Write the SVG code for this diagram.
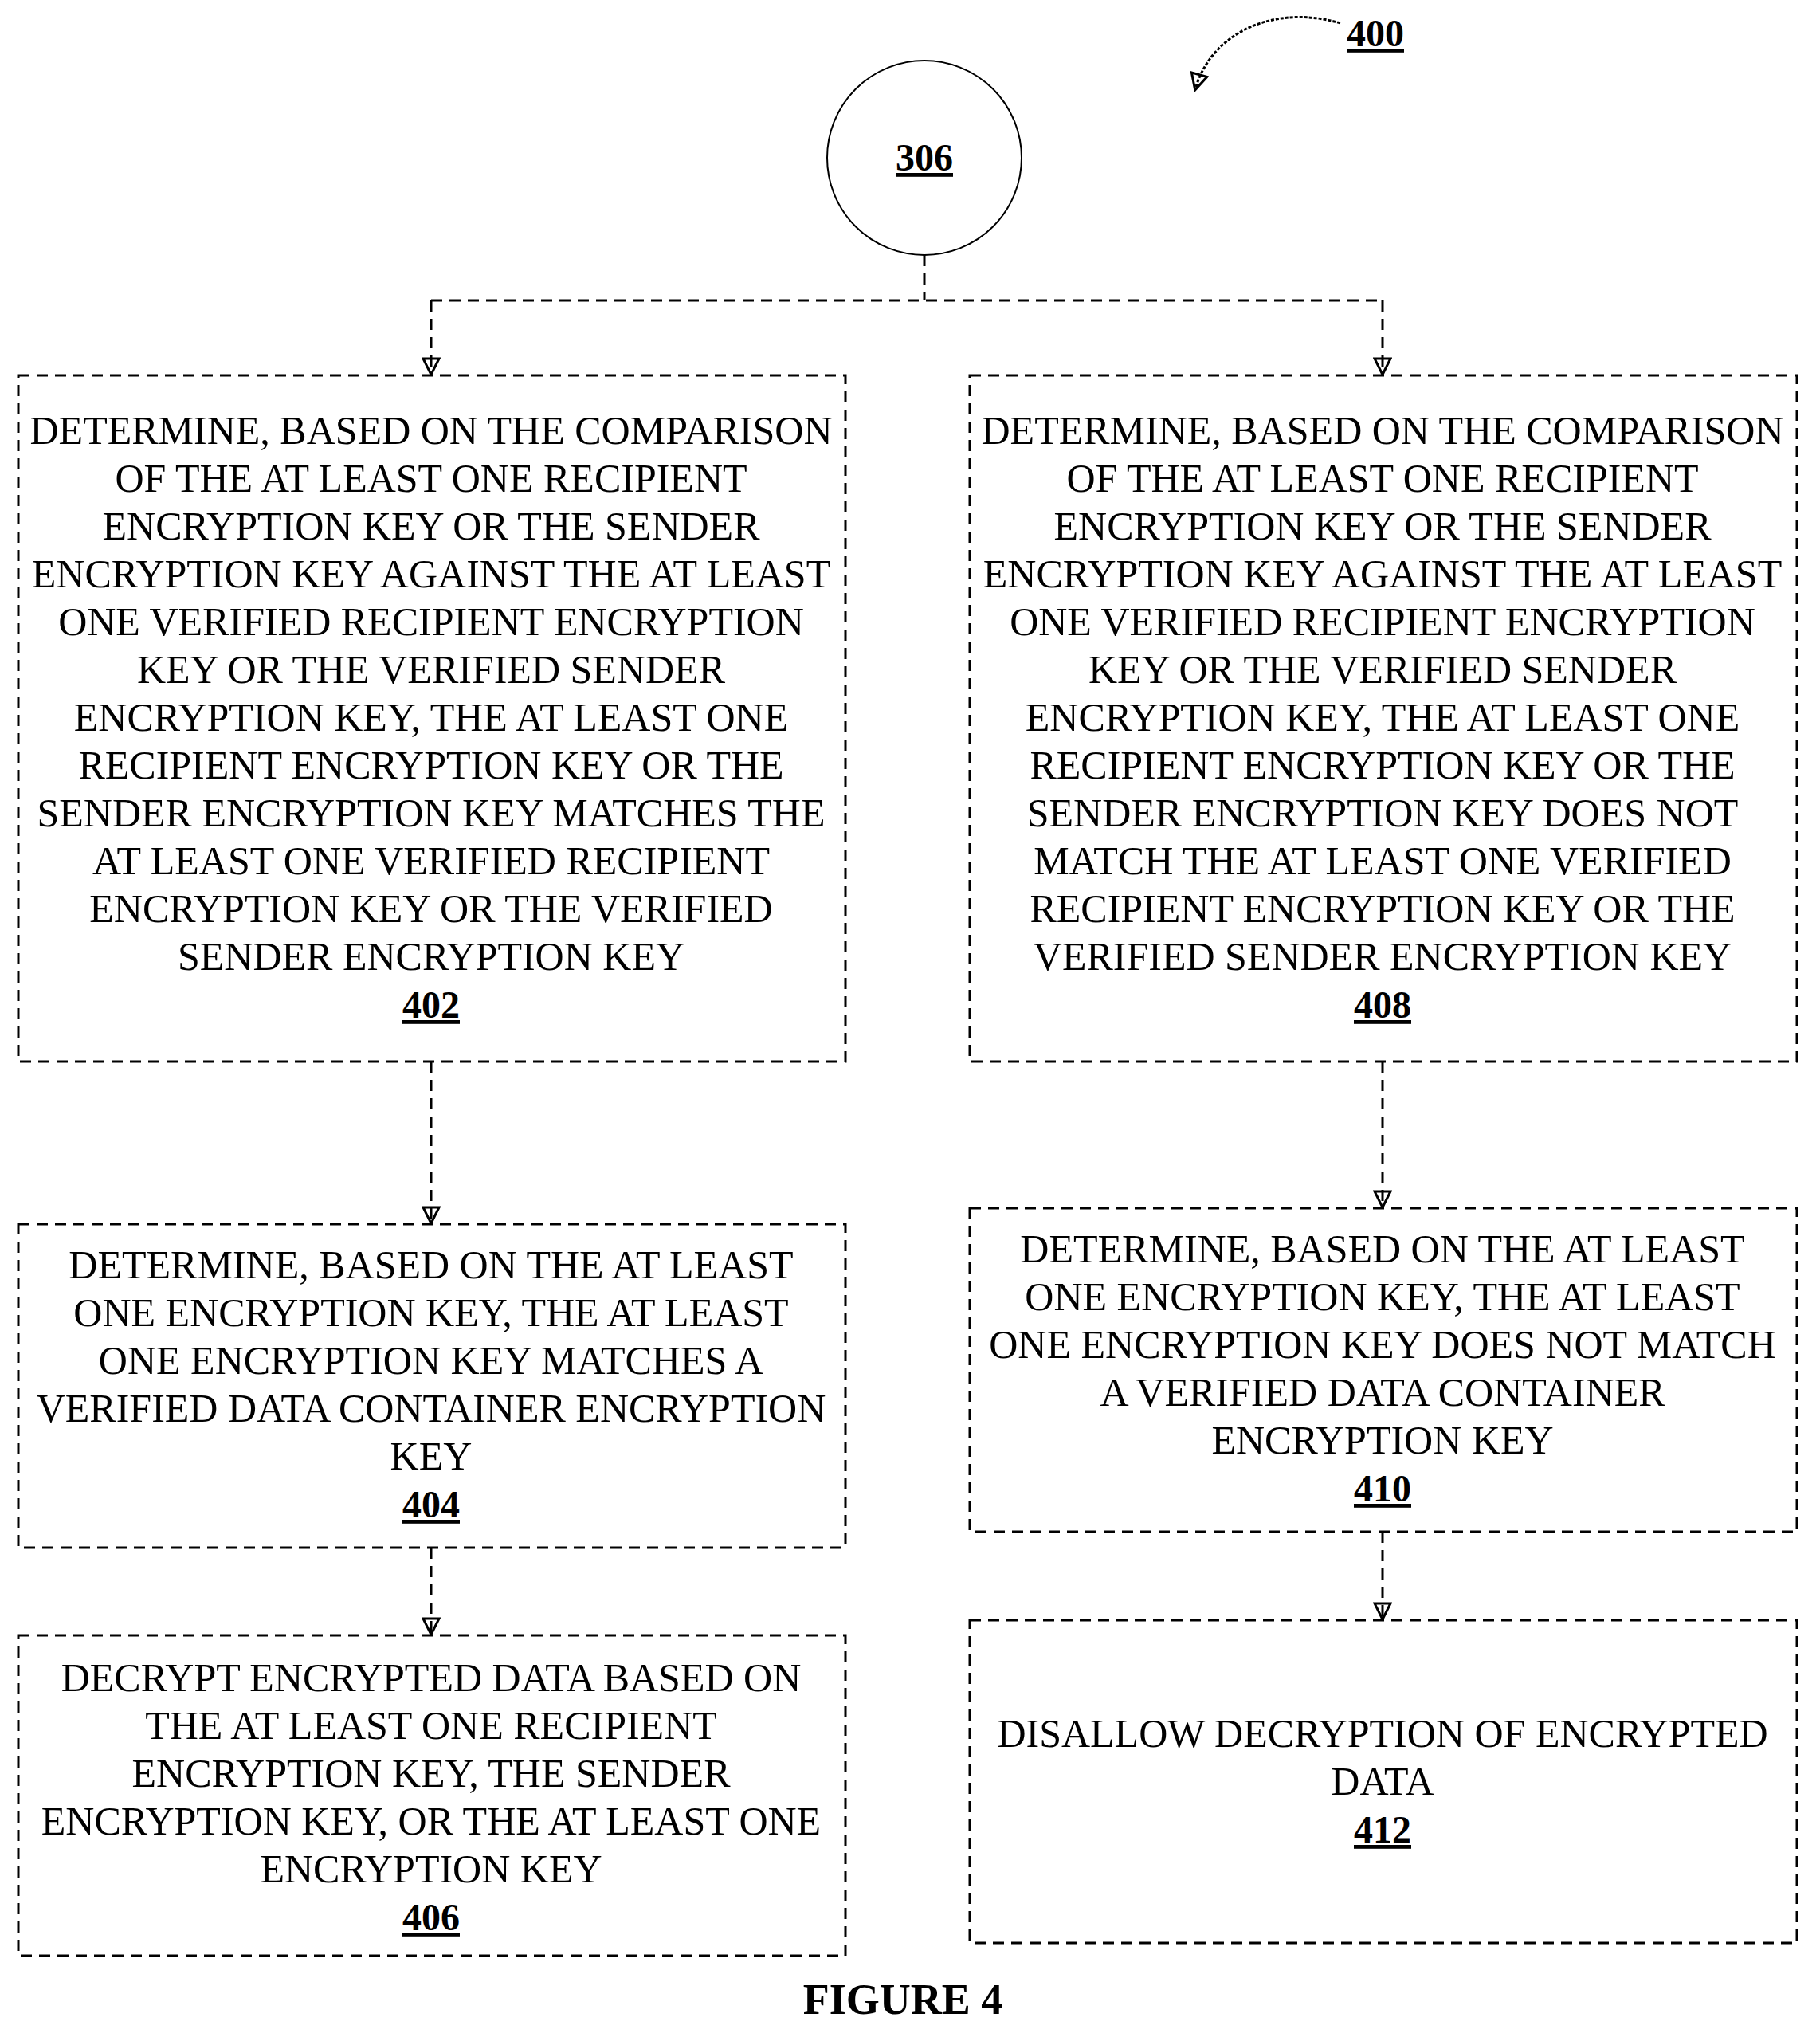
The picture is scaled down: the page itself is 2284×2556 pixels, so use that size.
<svg xmlns="http://www.w3.org/2000/svg" width="2284" height="2556" viewBox="0 0 2284 2556">
<style>
.box{fill:none;stroke:#000;stroke-width:3;stroke-dasharray:14 9}
.t{font-family:"Liberation Serif",serif;font-size:50px;text-anchor:middle;fill:#000}
.n{font-family:"Liberation Serif",serif;font-size:48px;font-weight:bold;text-anchor:middle;text-decoration:underline;fill:#000}
.c{fill:none;stroke:#000;stroke-width:3;stroke-dasharray:14 9}
</style>
<defs>
<marker id="b" markerWidth="24" markerHeight="24" refX="21" refY="12" orient="auto" markerUnits="userSpaceOnUse" viewBox="0 0 24 24"><path d="M2,2 L22,12 L2,22 Z" fill="none" stroke="#000" stroke-width="3"/></marker></defs>
<g id="connectors">
<path class="c" d="M1160,320 V377 M541,377 H1735"/>
<path class="c" d="M541,377 V469" marker-end="url(#b)"/>
<path class="c" d="M1735,377 V469" marker-end="url(#b)"/>
<path class="c" d="M541,1332 V1534" marker-end="url(#b)"/>
<path class="c" d="M1735,1332 V1514" marker-end="url(#b)"/>
<path class="c" d="M541,1942 V2050" marker-end="url(#b)"/>
<path class="c" d="M1735,1922 V2031" marker-end="url(#b)"/>
<path d="M1682,29 C1600,5 1520,40 1500,112" fill="none" stroke="#000" stroke-width="3" stroke-dasharray="4 2" marker-end="url(#b)"/>
</g>
<g id="n400"><text class="n" x="1726" y="58">400</text></g>
<g id="n306"><circle cx="1160" cy="198" r="122" fill="none" stroke="#000" stroke-width="2"/><text class="n" x="1160" y="214">306</text></g>
<g id="n402"><rect class="box" x="23" y="471" width="1038" height="861"/>
<text class="t" x="541" y="557">DETERMINE, BASED ON THE COMPARISON</text>
<text class="t" x="541" y="617">OF THE AT LEAST ONE RECIPIENT</text>
<text class="t" x="541" y="677">ENCRYPTION KEY OR THE SENDER</text>
<text class="t" x="541" y="737">ENCRYPTION KEY AGAINST THE AT LEAST</text>
<text class="t" x="541" y="797">ONE VERIFIED RECIPIENT ENCRYPTION</text>
<text class="t" x="541" y="857">KEY OR THE VERIFIED SENDER</text>
<text class="t" x="541" y="917">ENCRYPTION KEY, THE AT LEAST ONE</text>
<text class="t" x="541" y="977">RECIPIENT ENCRYPTION KEY OR THE</text>
<text class="t" x="541" y="1037">SENDER ENCRYPTION KEY MATCHES THE</text>
<text class="t" x="541" y="1097">AT LEAST ONE VERIFIED RECIPIENT</text>
<text class="t" x="541" y="1157">ENCRYPTION KEY OR THE VERIFIED</text>
<text class="t" x="541" y="1217">SENDER ENCRYPTION KEY</text>
<text class="n" x="541" y="1277">402</text></g>
<g id="n408"><rect class="box" x="1217" y="471" width="1038" height="861"/>
<text class="t" x="1735" y="557">DETERMINE, BASED ON THE COMPARISON</text>
<text class="t" x="1735" y="617">OF THE AT LEAST ONE RECIPIENT</text>
<text class="t" x="1735" y="677">ENCRYPTION KEY OR THE SENDER</text>
<text class="t" x="1735" y="737">ENCRYPTION KEY AGAINST THE AT LEAST</text>
<text class="t" x="1735" y="797">ONE VERIFIED RECIPIENT ENCRYPTION</text>
<text class="t" x="1735" y="857">KEY OR THE VERIFIED SENDER</text>
<text class="t" x="1735" y="917">ENCRYPTION KEY, THE AT LEAST ONE</text>
<text class="t" x="1735" y="977">RECIPIENT ENCRYPTION KEY OR THE</text>
<text class="t" x="1735" y="1037">SENDER ENCRYPTION KEY DOES NOT</text>
<text class="t" x="1735" y="1097">MATCH THE AT LEAST ONE VERIFIED</text>
<text class="t" x="1735" y="1157">RECIPIENT ENCRYPTION KEY OR THE</text>
<text class="t" x="1735" y="1217">VERIFIED SENDER ENCRYPTION KEY</text>
<text class="n" x="1735" y="1277">408</text></g>
<g id="n404"><rect class="box" x="23" y="1536" width="1038" height="406"/>
<text class="t" x="541" y="1604">DETERMINE, BASED ON THE AT LEAST</text>
<text class="t" x="541" y="1664">ONE ENCRYPTION KEY, THE AT LEAST</text>
<text class="t" x="541" y="1724">ONE ENCRYPTION KEY MATCHES A</text>
<text class="t" x="541" y="1784">VERIFIED DATA CONTAINER ENCRYPTION</text>
<text class="t" x="541" y="1844">KEY</text>
<text class="n" x="541" y="1904">404</text></g>
<g id="n410"><rect class="box" x="1217" y="1516" width="1038" height="406"/>
<text class="t" x="1735" y="1584">DETERMINE, BASED ON THE AT LEAST</text>
<text class="t" x="1735" y="1644">ONE ENCRYPTION KEY, THE AT LEAST</text>
<text class="t" x="1735" y="1704">ONE ENCRYPTION KEY DOES NOT MATCH</text>
<text class="t" x="1735" y="1764">A VERIFIED DATA CONTAINER</text>
<text class="t" x="1735" y="1824">ENCRYPTION KEY</text>
<text class="n" x="1735" y="1884">410</text></g>
<g id="n406"><rect class="box" x="23" y="2052" width="1038" height="402"/>
<text class="t" x="541" y="2122">DECRYPT ENCRYPTED DATA BASED ON</text>
<text class="t" x="541" y="2182">THE AT LEAST ONE RECIPIENT</text>
<text class="t" x="541" y="2242">ENCRYPTION KEY, THE SENDER</text>
<text class="t" x="541" y="2302">ENCRYPTION KEY, OR THE AT LEAST ONE</text>
<text class="t" x="541" y="2362">ENCRYPTION KEY</text>
<text class="n" x="541" y="2422">406</text></g>
<g id="n412"><rect class="box" x="1217" y="2033" width="1038" height="405"/>
<text class="t" x="1735" y="2192">DISALLOW DECRYPTION OF ENCRYPTED</text>
<text class="t" x="1735" y="2252">DATA</text>
<text class="n" x="1735" y="2312">412</text></g>
<g id="caption"><text x="1133" y="2527" font-family="Liberation Serif,serif" font-size="54" font-weight="bold" text-anchor="middle">FIGURE 4</text></g>
</svg>
